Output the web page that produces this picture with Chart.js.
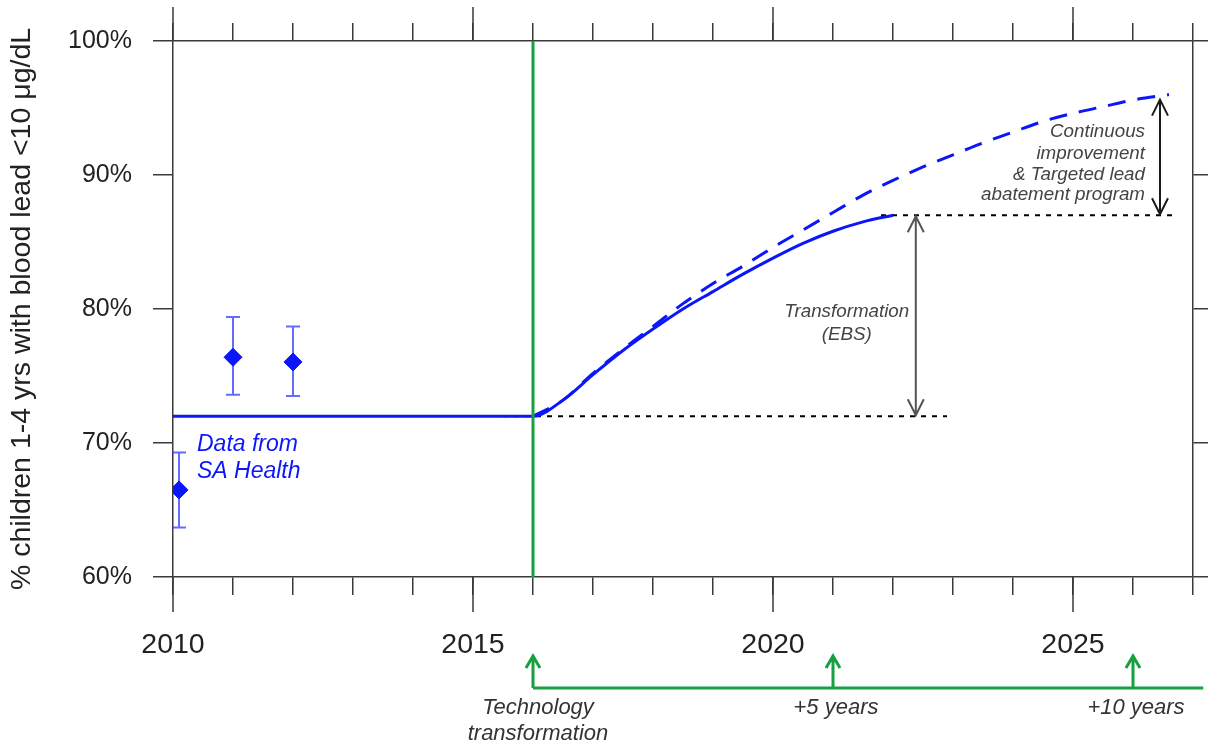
<!DOCTYPE html>
<html>
<head>
<meta charset="utf-8">
<script src="https://cdn.jsdelivr.net/npm/chart.js@4"></script>
<style>
  html, body { margin: 0; padding: 0; background: #ffffff; }
  #wrap { width: 1208px; height: 747px; }
</style>
</head>
<body>
<div id="wrap"><canvas id="c" width="1208" height="747"></canvas></div>
<script>
// ---- data ----
const measuredYears = [2010.1, 2011, 2012];
const measuredValues = [66.5, 76.4, 76.05];
const errLow = [63.7, 73.6, 73.5];
const errHigh = [69.3, 79.4, 78.7];

const modelYears  = [2010, 2016, 2016.5, 2017, 2017.5, 2018, 2018.5, 2019, 2019.5, 2020, 2020.5, 2021, 2021.5, 2022];
const modelValues = [72,   72,   73.2,   75.1, 76.9,   78.5, 80.0,   81.3, 82.6,   83.8, 84.9,   85.8, 86.5,   87.0];

const projYears  = [2016, 2016.5, 2017, 2017.5, 2018, 2018.5, 2019, 2019.5, 2020, 2020.5, 2021, 2021.5, 2022, 2022.5, 2023, 2023.5, 2024, 2024.5, 2025, 2025.5, 2026, 2026.6];
const projValues = [72,   73.2,   75.2, 77.0,   78.7, 80.4,   81.9, 83.2,   84.6, 85.9,   87.2, 88.5,   89.6, 90.6,   91.5, 92.4,   93.2, 94.0,   94.6, 95.1,   95.6, 96.0];

const baselineLevel = 72;
const baselineSpan = [2015.5, 2022.9];
const targetLevel = 87;
const targetSpan = [2021.8, 2026.7];
const transformArrow = { x: 2022.38, from: 72, to: 87 };
const continuousArrow = { x: 2026.45, from: 87, to: 95.7 };
const transformYear = 2016;
const milestoneYears = [2016, 2021, 2026];
const milestoneLabels = [["Technology", "transformation"], ["+5 years"], ["+10 years"]];
const timelineEnd = 2027.17;

const xTickMin = 2010, xTickMax = 2027;
const yTickMin = 60, yTickMax = 100, yStep = 10;
const yTitle = "% children 1-4 yrs with blood lead <10 \u03bcg/dL";

// ---- styles ----
const FONT = "'Liberation Sans', Arial, Helvetica, sans-serif";
const BLUE = "rgb(12,22,250)";
const GREEN = "#17a040";
const AXIS = "#3a3a3a";
const TEXT = "#222222";

const pts = (xs, ys) => xs.map((x, i) => ({ x: x, y: ys[i] }));

const extras = {
  id: 'extras',
  beforeDatasetsDraw(chart) {
    const ctx = chart.ctx, xs = chart.scales.x, ys = chart.scales.y;
    ctx.save();
    ctx.strokeStyle = "rgba(40,50,255,0.72)";
    ctx.lineWidth = 2;
    measuredYears.forEach((yr, i) => {
      const px = xs.getPixelForValue(yr);
      const p1 = ys.getPixelForValue(errLow[i]);
      const p2 = ys.getPixelForValue(errHigh[i]);
      ctx.beginPath();
      ctx.moveTo(px, p1); ctx.lineTo(px, p2);
      ctx.moveTo(px - 7, p1); ctx.lineTo(px + 7, p1);
      ctx.moveTo(px - 7, p2); ctx.lineTo(px + 7, p2);
      ctx.stroke();
    });
    ctx.restore();
  },
  afterDraw(chart) {
    const ctx = chart.ctx, xs = chart.scales.x, ys = chart.scales.y;
    const area = chart.chartArea;
    ctx.save();
    // major ticks (every 5 years), longer than minor ones, top and bottom
    ctx.strokeStyle = AXIS;
    ctx.lineWidth = 1.5;
    xs.ticks.forEach(t => {
      if (Math.round(t.value) % 5 === 0) {
        const px = xs.getPixelForValue(t.value);
        ctx.beginPath();
        ctx.moveTo(px, area.bottom); ctx.lineTo(px, area.bottom + 35);
        ctx.moveTo(px, area.top); ctx.lineTo(px, area.top - 34);
        ctx.stroke();
      }
    });

    // double arrows
    function dblArrow(x, yA, yB, color) {
      const px = xs.getPixelForValue(x);
      const p1 = ys.getPixelForValue(yA);
      const p2 = ys.getPixelForValue(yB);
      const top = Math.min(p1, p2), bot = Math.max(p1, p2);
      ctx.strokeStyle = color;
      ctx.lineWidth = 2;
      ctx.beginPath();
      ctx.moveTo(px, top + 1); ctx.lineTo(px, bot - 1);
      ctx.moveTo(px - 8, top + 17); ctx.lineTo(px, top + 1); ctx.lineTo(px + 8, top + 17);
      ctx.moveTo(px - 8, bot - 17); ctx.lineTo(px, bot - 1); ctx.lineTo(px + 8, bot - 17);
      ctx.stroke();
    }
    dblArrow(transformArrow.x, transformArrow.from, transformArrow.to, "#555555");
    dblArrow(continuousArrow.x, continuousArrow.from, continuousArrow.to, "#1a1a1a");

    // annotation texts
    ctx.fillStyle = "#444444";
    ctx.font = "italic 18.8px " + FONT;
    ctx.textAlign = "center";
    ctx.textBaseline = "middle";
    const tx = xs.getPixelForValue(2021.23);
    ctx.fillText("Transformation", tx, ys.getPixelForValue(79.8));
    ctx.fillText("(EBS)", tx, ys.getPixelForValue(78.05));

    ctx.textAlign = "right";
    const cx = xs.getPixelForValue(2026.2);
    const cLines = ["Continuous", "improvement", "& Targeted lead", "abatement program"];
    const cY = [93.2, 91.6, 90.0, 88.5];
    cLines.forEach((s, i) => ctx.fillText(s, cx, ys.getPixelForValue(cY[i])));

    ctx.fillStyle = BLUE;
    ctx.font = "italic 23px " + FONT;
    ctx.textAlign = "left";
    const dx = xs.getPixelForValue(2010.4);
    ctx.fillText("Data from", dx, ys.getPixelForValue(69.9));
    ctx.fillText("SA Health", dx, ys.getPixelForValue(67.9));

    // timeline below the axis
    const lineY = area.bottom + 111;
    const tipY = area.bottom + 78;
    ctx.strokeStyle = GREEN;
    ctx.lineWidth = 3;
    ctx.beginPath();
    ctx.moveTo(xs.getPixelForValue(transformYear), lineY);
    ctx.lineTo(xs.getPixelForValue(timelineEnd), lineY);
    ctx.stroke();
    milestoneYears.forEach((yr, i) => {
      const px = xs.getPixelForValue(yr);
      ctx.beginPath();
      ctx.moveTo(px, lineY); ctx.lineTo(px, tipY + 1);
      ctx.moveTo(px - 7, tipY + 13); ctx.lineTo(px, tipY + 1); ctx.lineTo(px + 7, tipY + 13);
      ctx.stroke();
    });
    ctx.fillStyle = "#333333";
    ctx.font = "italic 22px " + FONT;
    ctx.textAlign = "center";
    ctx.textBaseline = "middle";
    milestoneLabels.forEach((lines, i) => {
      const px = xs.getPixelForValue(milestoneYears[i]) + (i === 0 ? 5 : 3);
      lines.forEach((s, j) => ctx.fillText(s, px, area.bottom + 131 + j * 26));
    });
    ctx.restore();
  }
};

const gridBase = { drawOnChartArea: false, color: AXIS, lineWidth: 1.5, tickColor: AXIS };
const borderBase = { display: true, color: AXIS, width: 1.5 };
const noPad = s => { s.paddingLeft = 0; s.paddingRight = 0; s.paddingTop = 0; s.paddingBottom = 0; };

new Chart(document.getElementById('c'), {
  type: 'line',
  data: {
    datasets: [
      {
        label: 'vertical',
        data: [{ x: transformYear, y: yTickMin }, { x: transformYear, y: yTickMax }],
        borderColor: GREEN, borderWidth: 3, pointRadius: 0, order: 1
      },
      {
        label: 'baseline',
        data: [{ x: baselineSpan[0], y: baselineLevel }, { x: baselineSpan[1], y: baselineLevel }],
        borderColor: '#000', borderWidth: 2, borderDash: [5, 6], pointRadius: 0, order: 4
      },
      {
        label: 'target',
        data: [{ x: targetSpan[0], y: targetLevel }, { x: targetSpan[1], y: targetLevel }],
        borderColor: '#000', borderWidth: 2, borderDash: [5, 6], pointRadius: 0, order: 4
      },
      {
        label: 'projection',
        data: pts(projYears, projValues),
        borderColor: BLUE, borderWidth: 3, borderDash: [18, 12], pointRadius: 0,
        cubicInterpolationMode: 'monotone', order: 3
      },
      {
        label: 'model',
        data: pts(modelYears, modelValues),
        borderColor: BLUE, borderWidth: 3, pointRadius: 0,
        cubicInterpolationMode: 'monotone', order: 2
      },
      {
        label: 'measured',
        data: pts(measuredYears, measuredValues),
        showLine: false, pointStyle: 'rectRot', pointRadius: 9,
        pointBackgroundColor: BLUE, pointBorderColor: BLUE, pointBorderWidth: 1, order: 0
      }
    ]
  },
  options: {
    responsive: false,
    animation: false,
    layout: { padding: 0 },
    plugins: { legend: { display: false }, tooltip: { enabled: false }, title: { display: false } },
    scales: {
      x: {
        type: 'linear', position: 'bottom', min: xTickMin, max: xTickMax,
        grid: Object.assign({}, gridBase, { tickLength: 18 }),
        border: borderBase,
        ticks: {
          stepSize: 1, autoSkip: false, maxRotation: 0, padding: 33,
          color: TEXT, font: { family: FONT, size: 28.5 },
          callback: v => (Math.round(v) % 5 === 0 ? String(Math.round(v)) : '')
        },
        afterFit: s => { s.height = 170; noPad(s); }
      },
      xTop: {
        type: 'linear', position: 'top', min: xTickMin, max: xTickMax,
        grid: Object.assign({}, gridBase, { tickLength: 18 }),
        border: borderBase,
        ticks: { stepSize: 1, autoSkip: false, maxRotation: 0, padding: 0, callback: () => '' },
        afterFit: s => { s.height = 41; noPad(s); }
      },
      y: {
        type: 'linear', position: 'left', min: yTickMin, max: yTickMax,
        grid: Object.assign({}, gridBase, { tickLength: 20 }),
        border: borderBase,
        ticks: {
          stepSize: yStep, padding: 21, color: TEXT, font: { family: FONT, size: 25 },
          callback: v => v + '%'
        },
        title: {
          display: true, text: yTitle, color: TEXT,
          font: { family: FONT, size: 28.5 }, padding: { top: 5, bottom: 0 }
        },
        afterFit: s => { s.width = 173; noPad(s); }
      },
      yRight: {
        type: 'linear', position: 'right', min: yTickMin, max: yTickMax,
        grid: Object.assign({}, gridBase, { tickLength: 15 }),
        border: borderBase,
        ticks: { stepSize: yStep, padding: 0, callback: () => '' },
        afterFit: s => { s.width = 15; noPad(s); }
      }
    }
  },
  plugins: [extras]
});
</script>
</body>
</html>
